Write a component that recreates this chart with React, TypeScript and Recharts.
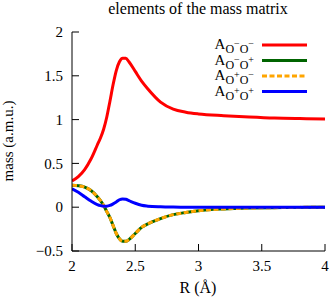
import React from 'react';
import { LineChart, Line, XAxis, YAxis } from 'recharts';

const R = [2.0, 2.05, 2.1, 2.15, 2.2, 2.225, 2.25, 2.275, 2.3, 2.325, 2.35, 2.375, 2.4, 2.425, 2.45, 2.5, 2.55, 2.6, 2.7, 2.8, 2.9, 3.0, 3.2, 3.4, 3.6, 3.8, 4.0];
const A_mm = [0.30, 0.35, 0.43, 0.55, 0.71, 0.79, 0.89, 1.03, 1.21, 1.40, 1.56, 1.66, 1.70, 1.70, 1.66, 1.55, 1.44, 1.35, 1.20, 1.12, 1.085, 1.065, 1.045, 1.03, 1.018, 1.012, 1.008];
const A_mp = [0.25, 0.245, 0.23, 0.19, 0.12, 0.075, 0.02, -0.05, -0.12, -0.21, -0.30, -0.36, -0.39, -0.39, -0.37, -0.30, -0.23, -0.19, -0.13, -0.085, -0.06, -0.04, -0.02, -0.01, -0.005, -0.002, 0];
const A_pm = [0.25, 0.245, 0.23, 0.19, 0.12, 0.075, 0.02, -0.05, -0.12, -0.21, -0.30, -0.36, -0.39, -0.39, -0.37, -0.30, -0.23, -0.19, -0.13, -0.085, -0.06, -0.04, -0.02, -0.01, -0.005, -0.002, 0];
const A_pp = [0.21, 0.17, 0.12, 0.07, 0.03, 0.018, 0.012, 0.012, 0.02, 0.038, 0.06, 0.085, 0.095, 0.09, 0.075, 0.045, 0.022, 0.012, 0.004, 0.001, 0, 0, 0, 0, 0, 0, 0];

const xTicks = [2, 2.5, 3, 3.5, 4];
const yTicks = [-0.5, 0, 0.5, 1, 1.5, 2];

const data = R.map((r, i) => ({ r, mm: A_mm[i], mp: A_mp[i], pm: A_pm[i], pp: A_pp[i] }));

const series = [
  { key: 'mm', s1: '−', s2: '−', color: '#ff0000', dash: undefined },
  { key: 'mp', s1: '−', s2: '+', color: '#006400', dash: undefined },
  { key: 'pm', s1: '+', s2: '−', color: '#ffa500', dash: '5 2.5' },
  { key: 'pp', s1: '+', s2: '+', color: '#0000ff', dash: undefined },
];

const font = 'Liberation Serif';
const fmt = (v: number) => (v < 0 ? '−' + String(-v) : String(v));

const XTick = (p: any) => (
  <text x={p.x} y={p.y} textAnchor="middle" dy="0.71em" fontFamily={font} fontSize={15} fill="#000">
    {fmt(p.payload.value)}
  </text>
);
const YTick = (p: any) => (
  <text x={p.x} y={p.y} textAnchor="end" dy="0.35em" fontFamily={font} fontSize={15} fill="#000">
    {fmt(p.payload.value)}
  </text>
);

export default function App() {
  return (
    <div style={{ position: 'absolute', left: 0, top: 0, width: 332, height: 299, background: '#fff' }}>
      <LineChart width={332} height={299} data={data} margin={{ top: 32, right: 7, bottom: 0, left: 0 }}>
        <XAxis dataKey="r" type="number" domain={[2, 4]} ticks={xTicks} height={48}
          tickSize={-7} tickMargin={16} stroke="#000" tick={<XTick />} allowDataOverflow />
        <XAxis xAxisId="top" orientation="top" dataKey="r" type="number" domain={[2, 4]} ticks={xTicks} height={0}
          tickSize={-7} tick={false} stroke="#000" allowDataOverflow />
        <YAxis type="number" domain={[-0.5, 2]} ticks={yTicks} width={72}
          tickSize={-7} tickMargin={16} stroke="#000" tick={<YTick />} allowDataOverflow />
        <YAxis yAxisId="right" orientation="right" type="number" domain={[-0.5, 2]} ticks={yTicks} width={0}
          tickSize={-7} tick={false} stroke="#000" allowDataOverflow />
        {series.map((s) => (
          <Line key={s.key} dataKey={s.key} type="monotone" stroke={s.color} strokeWidth={3}
            strokeDasharray={s.dash} dot={false} activeDot={false} isAnimationActive={false} />
        ))}
      </LineChart>
      <svg width={332} height={299} style={{ position: 'absolute', left: 0, top: 0, pointerEvents: 'none' }}>
        <text x={198} y={14} textAnchor="middle" fontFamily={font} fontSize={16}>elements of the mass matrix</text>
        <text x={198} y={293} textAnchor="middle" fontFamily={font} fontSize={16}>R (Å)</text>
        <text transform="translate(13,141) rotate(-90)" textAnchor="middle" fontFamily={font} fontSize={15}>mass (a.m.u.)</text>
        {series.map((s, i) => {
          const y = 45 + i * 15.5;
          return (
            <g key={s.key}>
              <text x={254} y={y + 4} textAnchor="end" fontFamily={font} fontSize={15}>
                A
                <tspan fontSize={12} dy={4}>O</tspan>
                <tspan fontSize={10} dy={-6}>{s.s1}</tspan>
                <tspan fontSize={12} dy={6}>O</tspan>
                <tspan fontSize={10} dy={-6}>{s.s2}</tspan>
              </text>
              <line x1={262} x2={307} y1={y} y2={y} stroke={s.key === 'pm' ? '#fff' : s.color} strokeWidth={3} />
              {s.key === 'pm' && (
                <line x1={262} x2={307} y1={y} y2={y} stroke={s.color} strokeWidth={3} strokeDasharray={s.dash} />
              )}
            </g>
          );
        })}
      </svg>
    </div>
  );
}
